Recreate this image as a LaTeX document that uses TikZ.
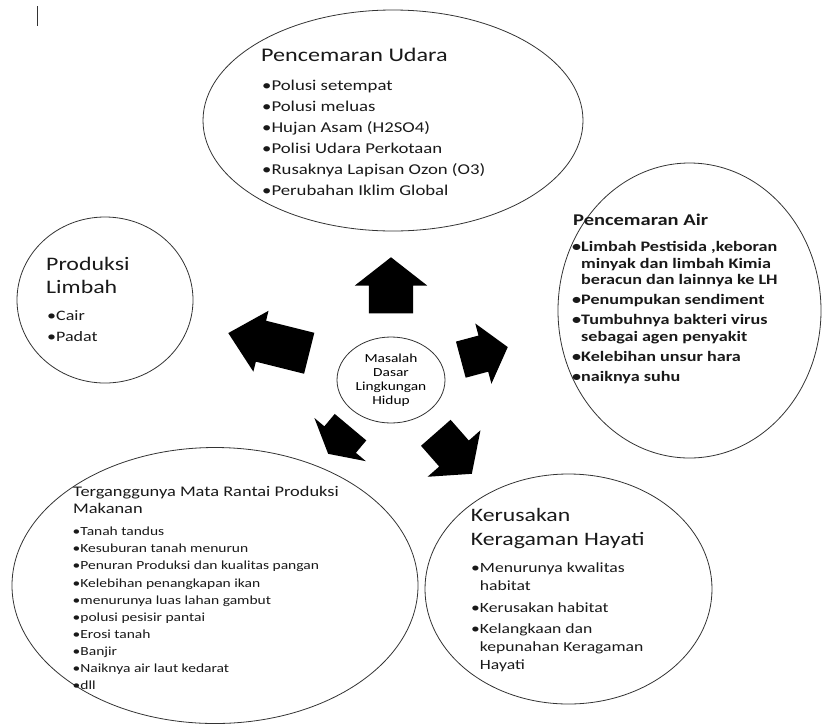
\documentclass[tikz,border=0pt]{standalone}
\usepackage{fontspec}
\setmainfont{Carlito}[FakeStretch=1.25]
\usetikzlibrary{shapes.geometric,shapes.arrows}
\newcommand\bl{\textbullet}
\newcommand\ind{\phantom{\textbullet}}
\begin{document}
\begin{tikzpicture}[x=1pt,y=-1pt,
    bubble/.style={draw=black!80,line width=0.8pt,ellipse,inner sep=0pt},
    blok/.style={single arrow,fill=black,inner xsep=0pt,anchor=tip},
    teks/.style={anchor=base west,inner sep=0pt,align=left,text=black!90}]
  \useasboundingbox (0,0) rectangle (822,724);
  \draw[line width=1.4pt,black!80] (37.3,6) -- (37.3,26);
  % lingkaran
  \node[bubble,minimum width=380pt,minimum height=221pt] (udara) at (393,120.5) {};
  \node[bubble,minimum width=263pt,minimum height=295pt] (air) at (689.5,310.5) {};
  \node[bubble,minimum width=176pt,minimum height=166pt] (limbah) at (105,300) {};
  \node[bubble,minimum width=406pt,minimum height=276pt] (pangan) at (215,585.5) {};
  \node[bubble,minimum width=287pt,minimum height=230pt] (hayati) at (568.5,589) {};
  \node[bubble,minimum width=108pt,minimum height=86pt,align=center,
    font=\fontsize{12.3}{14}\selectfont] (pusat) at (391,380)
    {Masalah\\Dasar\\Lingkungan\\Hidup};
  % panah (diletakkan di ujungnya)
  \node[blok,minimum height=56pt,inner ysep=22pt,single arrow head extend=14pt,
    single arrow tip angle=104,rotate=90] (keUdara) at (391,257) {};
  \node[blok,minimum height=48.6pt,inner ysep=18.5pt,single arrow head extend=12.5pt,
    single arrow tip angle=102,rotate=15] (keAir) at (508,347) {};
  \node[blok,minimum height=54.6pt,inner ysep=19.5pt,single arrow head extend=15.5pt,
    single arrow tip angle=105,rotate=-48.7] (keHayati) at (472,474) {};
  \node[blok,minimum height=34.8pt,inner ysep=20.4pt,single arrow head extend=13pt,
    single arrow tip angle=122,rotate=-130] (kePangan) at (328,454) {};
  \node[blok,minimum height=83.4pt,inner ysep=20.9pt,single arrow head extend=10.3pt,
    single arrow tip angle=86,rotate=166] (keLimbah) at (228,333) {};
  % teks (anchor di baris terakhir)
  \node[teks,font=\fontsize{19.3}{23}\selectfont] (udaraJ) at (261,61.7) {Pencemaran Udara};
  \node[teks,font=\fontsize{15}{20.9}\selectfont] (udaraI) at (262,195.2)
    {\bl Polusi setempat\\ \bl Polusi meluas\\ \bl Hujan Asam (H2SO4)\\
     \bl Polisi Udara Perkotaan\\ \bl Rusaknya Lapisan Ozon (O3)\\ \bl Perubahan Iklim Global};
  \node[teks,font=\bfseries\fontsize{16.4}{20}\selectfont] (airJ) at (573,225) {Pencemaran Air};
  \node[teks,font=\bfseries\fontsize{14.5}{16.7}\selectfont] (airI) at (572,381.4)
    {\bl Limbah Pestisida ,keboran\\ \ind minyak dan limbah Kimia\\ \ind beracun dan lainnya ke LH\\[3.3pt]
     \bl Penumpukan sendiment\\[3.3pt] \bl Tumbuhnya bakteri virus\\ \ind sebagai agen penyakit\\[3.3pt]
     \bl Kelebihan unsur hara\\[3.3pt] \bl naiknya suhu};
  \node[teks,font=\fontsize{19.1}{23}\selectfont] (limbahJ) at (46,293) {Produksi\\Limbah};
  \node[teks,font=\fontsize{14.4}{21}\selectfont] (limbahI) at (47,341.7) {\bl Cair\\ \bl Padat};
  \node[teks,font=\fontsize{14.7}{16.3}\selectfont] (panganJ) at (73,513)
    {Terganggunya Mata Rantai Produksi\\Makanan};
  \node[teks,font=\fontsize{12.4}{17.1}\selectfont] (panganI) at (72.5,689.6)
    {\bl Tanah tandus\\ \bl Kesuburan tanah menurun\\ \bl Penuran Produksi dan kualitas pangan\\
     \bl Kelebihan penangkapan ikan\\ \bl menurunya luas lahan gambut\\ \bl polusi pesisir pantai\\
     \bl Erosi tanah\\ \bl Banjir\\ \bl Naiknya air laut kedarat\\ \bl dll};
  \node[teks,font=\fontsize{19}{23.3}\selectfont] (hayatiJ) at (470.7,545)
    {Kerusakan\\Keragaman Hayati};
  \node[teks,font=\fontsize{14.1}{17.7}\selectfont] (hayatiI) at (471,669.2)
    {\bl Menurunya kwalitas\\ \ind habitat\\[4pt] \bl Kerusakan habitat\\[4pt]
     \bl Kelangkaan dan\\ \ind kepunahan Keragaman\\ \ind Hayati};
\end{tikzpicture}
\end{document}
